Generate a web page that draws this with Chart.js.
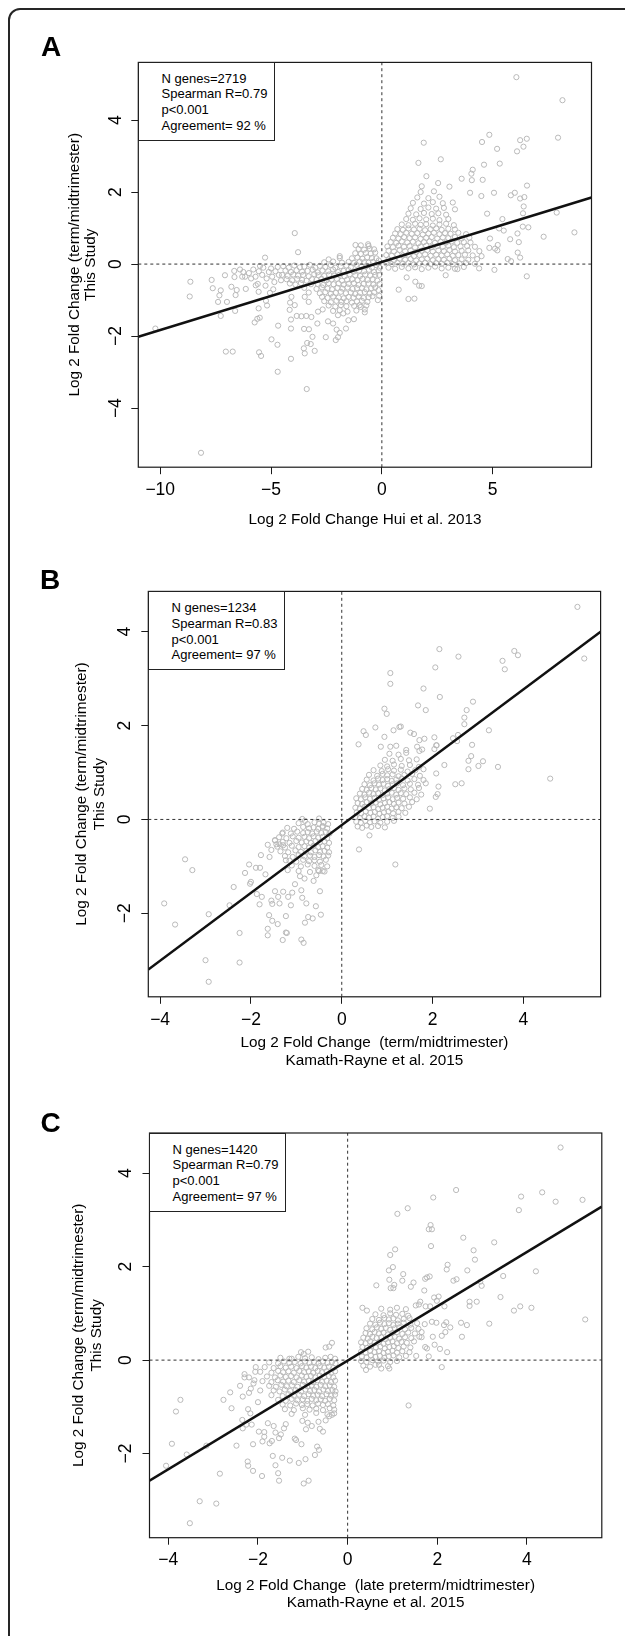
<!DOCTYPE html>
<html><head><meta charset="utf-8">
<script src="https://cdn.jsdelivr.net/npm/chart.js@4.4.1/dist/chart.umd.min.js"></script>
<style>
html,body{margin:0;padding:0;background:#fff;}
#page{position:relative;width:625px;height:1636px;overflow:hidden;font-family:"Liberation Sans",Arial,Helvetica,sans-serif;color:#000;}
#frame{position:absolute;left:8px;top:7.5px;width:700px;height:1700px;border:2px solid #262626;border-radius:12px;box-sizing:border-box;}
canvas{position:absolute;left:0;}
.lbl{position:absolute;font-weight:bold;font-size:28px;line-height:28px;}
.leg{position:absolute;border:1px solid #222;background:#fff;box-sizing:border-box;font-size:13px;line-height:15.8px;padding-left:22.5px;white-space:nowrap;}
</style></head>
<body><div id="page">
<div id="frame"></div>
<canvas id="cA" width="625" height="550" style="top:0px"></canvas>
<canvas id="cB" width="625" height="540" style="top:540px"></canvas>
<canvas id="cC" width="625" height="556" style="top:1080px"></canvas>
<div class="lbl" style="left:41px;top:33px">A</div>
<div class="lbl" style="left:40px;top:566px">B</div>
<div class="lbl" style="left:40.5px;top:1109px">C</div>
<div class="leg" style="left:138px;top:62px;width:137px;height:79px;padding-top:7.5px">N genes=2719<br>Spearman R=0.79<br>p&lt;0.001<br>Agreement= 92 %</div>
<div class="leg" style="left:148px;top:591px;width:137px;height:79px;padding-top:8px">N genes=1234<br>Spearman R=0.83<br>p&lt;0.001<br>Agreement= 97 %</div>
<div class="leg" style="left:149px;top:1133px;width:137px;height:79px;padding-top:7.5px">N genes=1420<br>Spearman R=0.79<br>p&lt;0.001<br>Agreement= 97 %</div>
</div>
<script>
// ---------- Panel A data ----------
const xTicksA = [-10, -5, 0, 5];
const yTicksA = [-4, -2, 0, 2, 4];
const fitA = [0.06, 0.189]; // intercept, slope
const outA = [[-3.93,0.86],[-3.78,0.33],[-5.27,0.18],[-8.64,-0.49],[-8.67,-0.9],[-10.22,-1.79],[-7.68,-0.44],[-7.63,-0.67],[-7.08,-0.31],[-6.66,-0.19],[-6.65,-0.36],[-7.27,-0.73],[-7.33,-0.87],[-7.39,-1.05],[-6.99,-1.05],[-6.79,-0.63],[-6.6,-0.86],[-6.55,-0.72],[-7.27,-1.44],[-6.62,-1.3],[-7.04,-2.43],[-6.73,-2.43],[-8.16,-5.24],[-6.17,-0.35],[-6.14,-0.69],[-6.25,-0.22],[-5.74,-1.62],[-5.62,-1.52],[-5.51,-1.49],[-5.56,-1.23],[-5.54,-2.45],[-5.45,-2.55],[-5.18,-1.15],[-5.23,-1.02],[-5.69,-0.59],[-5.56,-0.77],[-4.98,-2.09],[-4.71,-2.24],[-4.68,-1.71],[-4.7,-2.99],[-4.1,-1.54],[-4.1,-1.79],[-4.1,-2.63],[-3.39,-3.47],[-3.52,-2.34],[-3.48,-2.48],[-3.37,-2.19],[-3.21,-2.22],[-3.03,-2.41],[-3.13,-2.02],[-3.51,-1.8],[-3.29,-1.81],[-2.91,-1.65],[-2.53,-2.03],[-2.08,-2.11],[-1.98,-2.03],[-1.9,-1.91],[-2.04,-1.82],[-1.62,-1.79],[-1.51,-1.56],[-1.26,-1.53],[-4.16,-1.27],[-3.84,-1.44],[-3.63,-1.45],[-3.41,-1.44],[-3.18,-1.47],[-2.43,-1.59],[-2.2,-1.65],[-0.77,-1.34],[-0.77,-1.26],[-4.14,-1.07],[-3.93,-1.14],[-4.08,-0.91],[-3.48,-0.91],[-3.3,-1.05],[-2.88,-1.32],[-2.67,-1.26],[-1.98,-1.42],[-1.74,-1.37],[-1.0,-1.14],[-0.62,0.55],[-1.19,0.53],[-1.9,0.22],[-2.4,0.13],
[6.07,5.19],[8.15,4.55],[7.95,3.51],[4.85,3.59],[4.52,3.39],[6.24,3.44],[6.54,3.48],[6.39,3.26],[6.1,3.13],[5.2,3.2],[5.32,2.79],[4.61,2.76],[1.89,3.37],[1.65,2.81],[2.66,2.91],[4.1,2.62],[4.04,2.51],[4.06,2.33],[3.6,2.37],[4.55,2.34],[2.01,2.44],[1.8,2.16],[2.54,2.25],[3.05,2.15],[3.98,1.98],[5.06,1.98],[4.49,1.89],[5.82,1.91],[6.0,1.98],[6.55,2.18],[6.24,1.82],[6.43,1.86],[6.4,1.6],[4.75,1.4],[5.44,1.25],[6.37,1.41],[6.36,1.04],[6.61,1.02],[7.3,0.76],[8.69,0.88],[7.89,1.43],[5.29,0.99],[5.5,0.93],[6.12,0.85],[5.79,0.69],[6.18,0.61],[6.13,0.32],[6.24,0.18],[5.68,0.14],[5.83,0.08],[5.08,-0.16],[6.54,-0.34],[4.39,-0.12],[5.23,0.53],[5.11,0.43],[4.88,0.71],[4.85,0.45],[5.21,0.38],[0.76,-0.71],[1.2,-0.97],[1.47,-0.96],[1.51,-0.49],[1.68,-0.6],[1.8,-0.61],[1.12,-0.37],[2.88,-0.31],[3.41,-0.14]];
const denseA = [[-6.0,-0.25],[-5.8,-0.15],[-5.7,-0.35],[-5.55,-0.2],[-5.4,-0.3],[-5.35,-0.1],[-5.2,-0.4],[-5.1,-0.22],[-5.0,-0.12],[-4.95,-0.35],[-4.85,-0.5],[-4.8,-0.2],[-4.7,-0.08],[-4.65,-0.3],[-4.55,-0.45],[-5.9,-0.4],[-5.6,-0.55],[-5.25,-0.6],[-4.9,-0.7],[-5.5,-0.05],[-6.3,-0.35],[-6.4,-0.15],[-5.05,-0.8],
[-4.45,-0.06],[-4.2,-0.1],[-3.95,-0.04],[-3.7,-0.09],[-3.5,-0.07],[-3.25,-0.02],[-3.0,-0.1],[-2.8,-0.05],[-2.55,-0.08],[-2.3,-0.03],[-2.1,-0.1],[-1.85,-0.06],[-1.6,-0.04],[-1.4,-0.09],[-1.15,-0.02],[-0.9,-0.07],[-0.7,-0.05],[-0.45,-0.1],[-0.25,-0.03],
[-4.35,-0.18],[-4.1,-0.22],[-3.85,-0.17],[-3.6,-0.21],[-3.35,-0.19],[-3.12,-0.16],[-2.9,-0.23],[-2.68,-0.18],[-2.42,-0.2],[-2.2,-0.15],[-1.97,-0.22],[-1.72,-0.19],[-1.5,-0.17],[-1.27,-0.21],[-1.03,-0.18],[-0.8,-0.2],[-0.58,-0.16],[-0.35,-0.22],[-0.15,-0.18],
[-4.5,-0.3],[-4.25,-0.33],[-4.0,-0.29],[-3.78,-0.32],[-3.55,-0.3],[-3.3,-0.34],[-3.05,-0.28],[-2.85,-0.31],[-2.6,-0.33],[-2.38,-0.29],[-2.15,-0.32],[-1.92,-0.3],[-1.68,-0.34],[-1.45,-0.28],[-1.2,-0.31],[-0.98,-0.33],[-0.75,-0.29],[-0.52,-0.32],[-0.3,-0.3],
[-4.3,-0.42],[-4.05,-0.45],[-3.82,-0.41],[-3.6,-0.44],[-3.4,-0.46],[-3.15,-0.42],[-2.95,-0.44],[-2.72,-0.41],[-2.5,-0.45],[-2.27,-0.43],[-2.03,-0.41],[-1.8,-0.46],[-1.57,-0.43],[-1.33,-0.42],[-1.1,-0.45],[-0.88,-0.41],[-0.64,-0.44],[-0.42,-0.42],[-0.2,-0.46],
[-4.15,-0.54],[-3.9,-0.57],[-3.65,-0.53],[-3.2,-0.56],[-2.9,-0.55],[-2.65,-0.58],[-2.4,-0.53],[-2.18,-0.56],[-1.95,-0.54],[-1.72,-0.57],[-1.5,-0.55],[-1.26,-0.53],[-1.05,-0.58],[-0.82,-0.55],[-0.6,-0.54],[-0.38,-0.57],
[-3.5,-0.66],[-2.95,-0.69],[-2.7,-0.65],[-2.45,-0.68],[-2.25,-0.7],[-2.0,-0.66],[-1.78,-0.68],[-1.55,-0.65],[-1.32,-0.69],[-1.12,-0.67],[-0.9,-0.66],[-0.7,-0.7],[-0.48,-0.67],[-0.3,-0.65],
[-3.3,-0.79],[-2.8,-0.81],[-2.55,-0.78],[-2.3,-0.82],[-2.08,-0.8],[-1.85,-0.77],[-1.62,-0.81],[-1.4,-0.79],[-1.2,-0.83],[-0.98,-0.8],[-0.77,-0.78],[-0.55,-0.82],[-0.35,-0.79],
[-2.7,-0.91],[-2.45,-0.94],[-2.2,-0.9],[-1.95,-0.93],[-1.72,-0.95],[-1.5,-0.91],[-1.28,-0.93],[-1.05,-0.9],[-0.82,-0.94],[-0.6,-0.92],[-0.42,-0.89],
[-2.6,-1.03],[-2.3,-1.06],[-2.05,-1.02],[-1.82,-1.05],[-1.6,-1.03],[-1.35,-1.07],[-1.12,-1.04],[-0.9,-1.02],[-0.65,-1.05],
[-2.4,-1.15],[-2.1,-1.18],[-1.85,-1.14],[-1.6,-1.17],[-1.25,-1.16],[-0.95,-1.19],[-0.7,-1.15],
[-2.2,-1.3],[-1.9,-1.28],[-1.55,-1.32],[-1.15,-1.29],
[-2.6,0.05],[-2.2,0.07],[-1.8,0.04],[-1.5,0.06],[-1.25,0.03],[-1.0,0.07],[-0.8,0.05],[-0.6,0.04],[-0.4,0.06],[-0.2,0.03],
[-1.9,0.17],[-1.35,0.16],[-1.1,0.18],[-0.88,0.15],[-0.66,0.19],[-0.45,0.17],[-0.25,0.16],
[-1.2,0.3],[-0.95,0.28],[-0.72,0.31],[-0.5,0.29],[-0.3,0.32],[-1.05,0.42],[-0.8,0.4],[-0.55,0.43],[-0.35,0.41],[-0.95,0.52],[-0.6,0.5],
[-0.12,-0.3],[-0.1,-0.55],[-0.15,-0.72],[-0.12,-0.88],[-0.18,-1.0],[-0.14,0.1],[-0.1,-0.1],
[0.3,-0.1],[0.6,-0.13],[0.9,-0.08],[1.2,-0.12],[1.5,-0.09],[1.8,-0.14],[2.1,-0.1],[2.4,-0.07],[2.7,-0.12],[3.0,-0.1],[3.3,-0.13],[3.7,-0.08],
[0.2,0.02],[0.45,0.0],[0.7,0.04],[0.95,0.01],[1.2,0.03],[1.45,-0.01],[1.7,0.02],[1.95,0.04],[2.2,0.0],[2.45,0.03],[2.7,0.01],[2.95,0.04],[3.2,0.0],[3.5,0.02],[3.8,0.03],[4.2,0.01],
[0.3,0.13],[0.55,0.11],[0.8,0.15],[1.05,0.12],[1.3,0.14],[1.55,0.1],[1.8,0.13],[2.05,0.15],[2.3,0.11],[2.55,0.14],[2.8,0.12],[3.05,0.15],[3.3,0.11],[3.6,0.13],[3.9,0.12],[4.3,0.14],
[0.2,0.25],[0.45,0.23],[0.7,0.27],[0.95,0.24],[1.2,0.26],[1.45,0.22],[1.7,0.25],[1.95,0.27],[2.2,0.23],[2.45,0.26],[2.7,0.24],[2.95,0.27],[3.2,0.23],[3.45,0.25],[3.75,0.26],[4.1,0.24],[4.5,0.22],
[0.3,0.37],[0.55,0.35],[0.8,0.39],[1.05,0.36],[1.3,0.38],[1.55,0.34],[1.8,0.37],[2.05,0.39],[2.3,0.35],[2.55,0.38],[2.8,0.36],[3.05,0.39],[3.3,0.35],[3.6,0.37],[3.9,0.38],[4.4,0.36],
[0.25,0.49],[0.5,0.47],[0.75,0.51],[1.0,0.48],[1.25,0.5],[1.5,0.46],[1.75,0.49],[2.0,0.51],[2.25,0.47],[2.5,0.5],[2.75,0.48],[3.0,0.51],[3.25,0.47],[3.55,0.49],[3.85,0.5],[4.2,0.48],
[0.4,0.61],[0.65,0.59],[0.9,0.63],[1.15,0.6],[1.4,0.62],[1.65,0.58],[1.9,0.61],[2.15,0.63],[2.4,0.59],[2.65,0.62],[2.9,0.6],[3.15,0.63],[3.4,0.59],[3.7,0.61],[4.0,0.6],
[0.5,0.73],[0.75,0.71],[1.0,0.75],[1.25,0.72],[1.5,0.74],[1.75,0.7],[2.0,0.73],[2.25,0.75],[2.5,0.71],[2.75,0.74],[3.0,0.72],[3.3,0.75],[3.6,0.71],[3.95,0.73],
[0.6,0.85],[0.85,0.83],[1.1,0.87],[1.35,0.84],[1.6,0.86],[1.85,0.82],[2.1,0.85],[2.35,0.87],[2.6,0.83],[2.85,0.86],[3.1,0.84],[3.45,0.87],[3.8,0.83],
[0.7,0.97],[0.95,0.95],[1.2,0.99],[1.45,0.96],[1.7,0.98],[1.95,0.94],[2.2,0.97],[2.45,0.99],[2.7,0.95],[3.0,0.98],[3.3,0.96],
[0.9,1.1],[1.2,1.08],[1.5,1.12],[1.75,1.09],[2.0,1.11],[2.3,1.07],[2.6,1.1],[2.9,1.12],[3.25,1.08],
[1.1,1.25],[1.4,1.23],[1.7,1.27],[2.0,1.24],[2.3,1.26],[2.6,1.22],[3.0,1.25],
[1.2,1.4],[1.55,1.38],[1.9,1.42],[2.25,1.39],[2.55,1.41],[2.9,1.37],
[1.3,1.55],[1.75,1.53],[2.1,1.57],[2.45,1.54],[2.8,1.56],[3.3,1.52],
[1.4,1.7],[1.9,1.68],[2.3,1.72],[2.75,1.69],[3.2,1.71],[1.6,1.85],[2.1,1.83],[2.6,1.87],[1.75,2.0],[2.35,2.02]];

// ---------- Panel B data ----------
const xTicksB = [-4, -2, 0, 2, 4];
const yTicksB = [-2, 0, 2, 4];
const fitB = [-0.12, 0.723];
const outB = [[5.19,4.53],[5.34,3.43],[2.15,3.63],[2.57,3.47],[3.8,3.59],[3.88,3.5],[3.54,3.38],[3.59,3.2],[2.06,3.24],[1.07,3.12],[1.07,2.89],[1.8,2.79],[2.16,2.61],[1.68,2.43],[1.85,2.33],[0.94,2.36],[0.99,2.25],[2.89,2.51],[2.75,2.33],[2.7,2.17],[2.7,2.03],[3.24,1.9],[2.56,1.8],[2.45,1.73],[2.54,1.67],[2.87,1.59],[2.85,1.35],[2.79,1.25],[3.11,1.24],[3.01,1.14],[2.79,1.07],[3.44,1.12],[2.26,1.16],[2.5,0.75],[2.64,0.77],[4.59,0.87],[1.94,0.23],[2.11,0.54],[2.07,0.48],[2.13,0.7],[2.08,0.98],[2.04,1.75],[2.08,1.58],[2.04,1.5],[0.74,1.96],[0.48,1.88],[0.53,1.8],[0.37,1.6],[1.14,1.9],[1.27,1.97],[1.3,1.98],[0.94,1.76],[1.51,1.85],[1.59,1.82],[1.71,1.69],[1.82,1.72],[0.38,-0.64],[1.18,-0.96],[0.61,-0.34],[0.86,1.55],[1.07,1.55],[1.2,1.57],[1.42,1.48],[1.71,1.46],[1.77,1.49],[1.66,1.55],[2.09,1.58],
[-3.91,-1.79],[-3.67,-2.24],[-3.45,-0.85],[-3.29,-1.08],[-2.93,-2.02],[-3.0,-3.0],[-2.93,-3.46],[-2.25,-2.42],[-2.25,-3.05],[-2.47,-1.83],[-2.38,-1.44],[-2.13,-1.14],[-2.04,-0.96],[-2.0,-1.33],[-2.02,-1.37],[-1.89,-1.03],[-1.8,-1.03],[-1.78,-0.76],[-1.68,-1.17],[-1.87,-1.59],[-1.81,-1.81],[-1.76,-1.65],[-1.63,-0.54],[-1.59,-0.8],[-1.55,-0.65],[-1.47,-0.45],[-1.63,-2.33],[-1.63,-2.47],[-1.53,-2.16],[-1.6,-2.04],[-1.53,-1.8],[-1.55,-1.73],[-1.47,-1.53],[-1.41,-2.23],[-1.4,-1.65],[-1.37,-1.79],[-1.3,-2.57],[-1.23,-2.41],[-1.21,-2.42],[-1.23,-2.06],[-1.29,-1.54],[-1.18,-1.65],[-1.12,-1.83],[-1.09,-1.56],[-1.03,-1.38],[-0.89,-2.56],[-0.84,-2.63],[-0.81,-2.2],[-0.74,-2.08],[-0.64,-2.11],[-0.57,-1.85],[-0.46,-2.03],[-0.48,-1.53],[-0.87,-1.67],[-0.78,-1.79],[-0.89,-1.51],[-0.62,-1.31],[-0.56,-1.19],[-0.5,-1.1],[-0.42,-1.1],[-0.82,-1.26],[-0.92,-1.21],[-1.31,-0.3],[-1.47,-0.44],[-1.23,-0.87],[-1.19,-1.08],[-1.44,-0.53],[-1.37,-0.53],[-1.29,-0.55],[-0.87,0.01],[-0.5,0.02],[-0.42,-0.14],[-0.81,-0.03]];
const denseB = [[0.35,-0.15],[0.45,-0.18],[0.55,-0.13],[0.65,-0.16],[0.8,-0.14],[0.95,-0.17],
[0.32,-0.05],[0.42,-0.07],[0.52,-0.03],[0.62,-0.06],[0.72,-0.04],[0.85,-0.07],[1.0,-0.05],[1.15,-0.03],
[0.3,0.05],[0.4,0.03],[0.5,0.07],[0.6,0.04],[0.7,0.06],[0.8,0.02],[0.9,0.05],[1.0,0.07],[1.12,0.03],[1.25,0.06],
[0.33,0.15],[0.43,0.13],[0.53,0.17],[0.63,0.14],[0.73,0.16],[0.83,0.12],[0.93,0.15],[1.03,0.17],[1.13,0.13],[1.25,0.16],[1.4,0.14],
[0.3,0.25],[0.4,0.23],[0.5,0.27],[0.6,0.24],[0.7,0.26],[0.8,0.22],[0.9,0.25],[1.0,0.27],[1.1,0.23],[1.2,0.26],[1.32,0.24],[1.48,0.27],
[0.35,0.35],[0.45,0.33],[0.55,0.37],[0.65,0.34],[0.75,0.36],[0.85,0.32],[0.95,0.35],[1.05,0.37],[1.15,0.33],[1.25,0.36],[1.38,0.34],[1.55,0.37],
[0.32,0.45],[0.42,0.43],[0.52,0.47],[0.62,0.44],[0.72,0.46],[0.82,0.42],[0.92,0.45],[1.02,0.47],[1.12,0.43],[1.22,0.46],[1.35,0.44],[1.5,0.47],[1.65,0.43],
[0.4,0.55],[0.5,0.53],[0.6,0.57],[0.7,0.54],[0.8,0.56],[0.9,0.52],[1.0,0.55],[1.1,0.57],[1.2,0.53],[1.3,0.56],[1.42,0.54],[1.6,0.57],[1.75,0.53],
[0.45,0.65],[0.55,0.63],[0.65,0.67],[0.75,0.64],[0.85,0.66],[0.95,0.62],[1.05,0.65],[1.15,0.67],[1.25,0.63],[1.38,0.66],[1.52,0.64],[1.7,0.67],
[0.5,0.75],[0.62,0.73],[0.72,0.77],[0.82,0.74],[0.92,0.76],[1.02,0.72],[1.12,0.75],[1.22,0.77],[1.35,0.73],[1.5,0.76],[1.68,0.74],[1.85,0.77],
[0.55,0.85],[0.7,0.83],[0.8,0.87],[0.9,0.84],[1.0,0.86],[1.1,0.82],[1.2,0.85],[1.32,0.87],[1.45,0.83],[1.6,0.86],[1.8,0.84],
[0.6,0.95],[0.78,0.93],[0.9,0.97],[1.0,0.94],[1.12,0.96],[1.25,0.92],[1.38,0.95],[1.55,0.97],[1.72,0.93],
[0.7,1.05],[0.88,1.03],[1.02,1.07],[1.15,1.04],[1.3,1.06],[1.45,1.02],[1.62,1.05],[1.8,1.07],
[0.85,1.15],[1.0,1.13],[1.15,1.17],[1.32,1.14],[1.5,1.16],[1.7,1.12],[0.95,1.27],[1.12,1.25],[1.3,1.29],[1.48,1.26],[1.65,1.28],[1.05,1.4],[1.25,1.38],[1.42,1.42],
[-0.95,-0.08],[-0.75,-0.1],[-0.6,-0.06],[-0.5,-0.09],[-0.4,-0.07],[-0.3,-0.1],
[-1.2,-0.18],[-1.05,-0.2],[-0.85,-0.16],[-0.72,-0.19],[-0.62,-0.17],[-0.52,-0.2],[-0.42,-0.16],[-0.32,-0.19],
[-1.3,-0.28],[-1.12,-0.3],[-0.98,-0.26],[-0.85,-0.29],[-0.75,-0.27],[-0.65,-0.3],[-0.55,-0.26],[-0.45,-0.29],[-0.35,-0.27],[-0.27,-0.3],
[-1.38,-0.38],[-1.22,-0.4],[-1.08,-0.36],[-0.95,-0.39],[-0.82,-0.37],[-0.72,-0.4],[-0.62,-0.36],[-0.52,-0.39],[-0.42,-0.37],[-0.32,-0.4],
[-1.3,-0.48],[-1.15,-0.5],[-1.0,-0.46],[-0.88,-0.49],[-0.78,-0.47],[-0.68,-0.5],[-0.58,-0.46],[-0.48,-0.49],[-0.38,-0.47],[-0.28,-0.5],
[-1.42,-0.58],[-1.25,-0.6],[-1.1,-0.56],[-0.95,-0.59],[-0.82,-0.57],[-0.72,-0.6],[-0.62,-0.56],[-0.52,-0.59],[-0.42,-0.57],[-0.32,-0.6],
[-1.35,-0.68],[-1.18,-0.7],[-1.02,-0.66],[-0.9,-0.69],[-0.78,-0.67],[-0.68,-0.7],[-0.58,-0.66],[-0.48,-0.69],[-0.38,-0.67],[-0.28,-0.7],
[-1.25,-0.78],[-1.08,-0.8],[-0.95,-0.76],[-0.82,-0.79],[-0.7,-0.77],[-0.6,-0.8],[-0.5,-0.76],[-0.4,-0.79],[-0.3,-0.77],
[-1.15,-0.88],[-1.0,-0.9],[-0.85,-0.86],[-0.72,-0.89],[-0.6,-0.87],[-0.48,-0.9],[-0.35,-0.86],
[-1.1,-0.98],[-0.9,-1.0],[-0.75,-0.96],[-0.6,-0.99],[-0.45,-0.97],[-0.32,-1.0],[-0.95,-1.1],[-0.7,-1.12],[-0.52,-1.08],[-0.38,-1.11]];

// ---------- Panel C data ----------
const xTicksC = [-4, -2, 0, 2, 4];
const yTicksC = [-2, 0, 2, 4];
const fitC = [-0.01, 0.581];
const outC = [[-3.73,-0.85],[-3.83,-1.1],[-3.92,-1.79],[-4.05,-2.26],[-3.59,-2.02],[-3.15,-1.83],[-3.3,-3.02],[-2.93,-3.07],[-3.52,-3.49],[-2.85,-2.43],[-2.62,-0.69],[-2.77,-0.85],[-2.59,-1.03],[-2.48,-1.83],[-2.34,-0.78],[-2.35,-1.28],[-2.34,-1.46],[-2.22,-1.05],[-2.23,-2.17],[-2.22,-2.26],[-2.11,-2.37],[-2.11,-1.8],[-2.14,-1.38],[-2.26,-1.38],[-2.3,-0.37],[-2.2,-0.37],[-2.08,-0.43],[-2.16,-0.61],[-2.06,-0.25],[-1.9,-1.74],[-1.91,-2.48],[-1.86,-1.64],[-1.86,-1.54],[-1.74,-1.78],[-1.69,-1.73],[-1.67,-2.05],[-1.61,-2.25],[-1.55,-2.42],[-1.53,-2.58],[-1.46,-2.09],[-1.65,-1.41],[-1.61,-1.55],[-1.49,-1.59],[-1.53,-1.67],[-1.42,-1.46],[-1.38,-1.37],[-1.29,-2.15],[-1.18,-1.68],[-1.15,-1.71],[-1.03,-1.8],[-1.09,-2.2],[-0.94,-2.12],[-0.98,-2.64],[-0.87,-2.58],[-0.73,-2.03],[-0.68,-1.85],[-0.64,-1.92],[-0.62,-1.47],[-0.55,-1.53],[-0.89,-1.34],[-0.8,-1.41],[-1.01,-1.3],[-0.93,-1.48],[-0.49,-1.29],[-0.41,-1.2],[-0.35,-1.17],[-0.65,-1.32],[-0.35,0.37],[-0.49,0.27],[-0.41,0.29],[-1.04,0.17],[-0.98,0.13],[-0.88,0.18],[-1.25,0.03],[-2.17,-1.14],[-1.98,-1.53],[-1.78,-1.35],
[4.75,4.55],[2.42,3.64],[1.91,3.48],[3.87,3.5],[4.34,3.59],[4.64,3.39],[5.24,3.43],[3.82,3.21],[1.11,3.13],[1.34,3.25],[1.85,2.89],[1.81,2.8],[1.88,2.8],[2.58,2.62],[3.27,2.52],[1.86,2.44],[2.81,2.35],[2.84,2.15],[1.06,2.37],[0.95,2.25],[2.23,2.04],[2.21,1.94],[2.67,1.92],[3.47,1.8],[4.2,1.9],[1.01,1.99],[0.92,1.92],[0.93,1.72],[0.64,1.6],[1.24,1.84],[1.22,1.7],[1.04,1.61],[0.96,1.54],[1.02,1.54],[1.41,1.57],[1.47,1.66],[1.73,1.74],[1.77,1.77],[1.83,1.79],[1.71,1.49],[2.36,1.7],[2.43,1.73],[2.99,1.59],[2.96,1.68],[3.41,1.35],[2.72,1.25],[2.88,1.25],[2.72,1.16],[3.71,1.06],[3.85,1.15],[4.1,1.12],[3.16,0.78],[5.3,0.87],[2.53,0.8],[2.66,0.75],[2.55,0.5],[2.29,0.7],[2.18,0.6],[2.1,0.52],[2.22,0.17],[2.06,0.24],[1.94,0.33],[1.81,0.08],[1.73,0.28],[1.77,0.25],[1.53,0.09],[2.1,-0.15],[1.36,-0.97],[0.93,-0.18],[0.75,-0.18],[0.62,-0.1],[0.41,-0.21],[0.33,1.12],[0.43,1.06],[1.93,1.34],[2.03,1.36],[1.99,1.27],[2.16,1.15],[1.84,1.15],[1.74,1.15],[1.62,1.25],[1.59,1.19],[1.52,1.17],[1.98,0.8],[1.88,0.82],[2.2,0.81],[2.15,0.75],[1.9,0.5],[1.65,0.49]];
const denseC = [[-1.5,0.05],[-1.3,0.03],[-1.1,0.07],[-0.95,0.04],[-0.8,0.06],[-0.65,0.02],[-0.5,0.05],[-0.38,0.07],[-0.28,0.03],
[-1.75,-0.05],[-1.55,-0.07],[-1.42,-0.03],[-1.3,-0.06],[-1.18,-0.04],[-1.05,-0.07],[-0.95,-0.03],[-0.85,-0.06],[-0.75,-0.04],[-0.65,-0.07],[-0.55,-0.03],[-0.45,-0.06],[-0.35,-0.04],[-0.27,-0.07],
[-1.85,-0.15],[-1.65,-0.17],[-1.5,-0.13],[-1.38,-0.16],[-1.26,-0.14],[-1.14,-0.17],[-1.02,-0.13],[-0.92,-0.16],[-0.82,-0.14],[-0.72,-0.17],[-0.62,-0.13],[-0.52,-0.16],[-0.42,-0.14],[-0.32,-0.17],
[-1.95,-0.25],[-1.7,-0.27],[-1.55,-0.23],[-1.44,-0.26],[-1.32,-0.24],[-1.2,-0.27],[-1.08,-0.23],[-0.97,-0.26],[-0.87,-0.24],[-0.77,-0.27],[-0.67,-0.23],[-0.57,-0.26],[-0.47,-0.24],[-0.37,-0.27],[-0.28,-0.24],
[-1.8,-0.35],[-1.62,-0.37],[-1.5,-0.33],[-1.38,-0.36],[-1.26,-0.34],[-1.14,-0.37],[-1.02,-0.33],[-0.92,-0.36],[-0.82,-0.34],[-0.72,-0.37],[-0.62,-0.33],[-0.52,-0.36],[-0.42,-0.34],[-0.32,-0.37],
[-1.9,-0.45],[-1.7,-0.47],[-1.56,-0.43],[-1.44,-0.46],[-1.32,-0.44],[-1.2,-0.47],[-1.08,-0.43],[-0.97,-0.46],[-0.87,-0.44],[-0.77,-0.47],[-0.67,-0.43],[-0.57,-0.46],[-0.47,-0.44],[-0.37,-0.47],[-0.28,-0.44],
[-1.75,-0.55],[-1.6,-0.57],[-1.48,-0.53],[-1.36,-0.56],[-1.24,-0.54],[-1.12,-0.57],[-1.0,-0.53],[-0.9,-0.56],[-0.8,-0.54],[-0.7,-0.57],[-0.6,-0.53],[-0.5,-0.56],[-0.4,-0.54],[-0.3,-0.57],
[-1.65,-0.65],[-1.52,-0.67],[-1.4,-0.63],[-1.28,-0.66],[-1.16,-0.64],[-1.04,-0.67],[-0.94,-0.63],[-0.84,-0.66],[-0.74,-0.64],[-0.64,-0.67],[-0.54,-0.63],[-0.44,-0.66],[-0.34,-0.64],[-0.27,-0.67],
[-1.7,-0.75],[-1.45,-0.77],[-1.32,-0.73],[-1.2,-0.76],[-1.08,-0.74],[-0.97,-0.77],[-0.87,-0.73],[-0.77,-0.76],[-0.67,-0.74],[-0.57,-0.77],[-0.47,-0.73],[-0.37,-0.76],[-0.28,-0.74],
[-1.55,-0.85],[-1.38,-0.87],[-1.25,-0.83],[-1.12,-0.86],[-1.0,-0.84],[-0.9,-0.87],[-0.8,-0.83],[-0.7,-0.86],[-0.6,-0.84],[-0.5,-0.87],[-0.4,-0.83],[-0.3,-0.86],
[-1.45,-0.95],[-1.28,-0.97],[-1.15,-0.93],[-1.02,-0.96],[-0.9,-0.94],[-0.78,-0.97],[-0.66,-0.93],[-0.55,-0.96],[-0.44,-0.94],[-0.32,-0.97],
[-1.4,-1.05],[-1.2,-1.07],[-1.0,-1.03],[-0.85,-1.06],[-0.7,-1.04],[-0.55,-1.07],[-0.4,-1.03],[-0.3,-1.06],
[-1.25,-1.15],[-0.95,-1.17],[-0.7,-1.13],[-0.45,-1.16],[-0.3,-1.14],
[-2.3,-0.3],[-2.1,-0.5],[-2.2,-0.7],[-2.0,-0.9],[-2.4,-0.55],[-2.05,-0.15],[-1.95,-0.65],
[0.35,-0.12],[0.5,-0.14],[0.7,-0.1],[0.9,-0.13],
[0.3,-0.02],[0.42,-0.04],[0.55,0.0],[0.68,-0.03],[0.8,-0.01],[0.95,-0.04],[1.1,-0.02],
[0.32,0.08],[0.42,0.06],[0.52,0.1],[0.62,0.07],[0.72,0.09],[0.82,0.05],[0.92,0.08],[1.02,0.1],[1.15,0.06],[1.3,0.09],
[0.3,0.18],[0.4,0.16],[0.5,0.2],[0.6,0.17],[0.7,0.19],[0.8,0.15],[0.9,0.18],[1.0,0.2],[1.1,0.16],[1.22,0.19],[1.38,0.17],
[0.33,0.28],[0.43,0.26],[0.53,0.3],[0.63,0.27],[0.73,0.29],[0.83,0.25],[0.93,0.28],[1.03,0.3],[1.13,0.26],[1.25,0.29],[1.4,0.27],
[0.3,0.38],[0.4,0.36],[0.5,0.4],[0.6,0.37],[0.7,0.39],[0.8,0.35],[0.9,0.38],[1.0,0.4],[1.1,0.36],[1.2,0.39],[1.32,0.37],[1.48,0.4],
[0.35,0.48],[0.45,0.46],[0.55,0.5],[0.65,0.47],[0.75,0.49],[0.85,0.45],[0.95,0.48],[1.05,0.5],[1.15,0.46],[1.28,0.49],[1.42,0.47],[1.6,0.5],
[0.4,0.58],[0.5,0.56],[0.6,0.6],[0.7,0.57],[0.8,0.59],[0.9,0.55],[1.0,0.58],[1.1,0.6],[1.22,0.56],[1.35,0.59],[1.5,0.57],[1.65,0.6],
[0.42,0.68],[0.55,0.66],[0.65,0.7],[0.75,0.67],[0.85,0.69],[0.95,0.65],[1.05,0.68],[1.15,0.7],[1.28,0.66],[1.42,0.69],[1.58,0.67],
[0.5,0.78],[0.62,0.76],[0.72,0.8],[0.82,0.77],[0.92,0.79],[1.02,0.75],[1.12,0.78],[1.25,0.8],[1.4,0.76],[1.55,0.79],[1.72,0.77],
[0.55,0.88],[0.7,0.86],[0.82,0.9],[0.92,0.87],[1.02,0.89],[1.12,0.85],[1.25,0.88],[1.38,0.9],
[0.62,0.98],[0.8,0.96],[0.95,1.0],[1.08,0.97],[1.22,0.99],[1.35,0.95],[0.75,1.1],[0.95,1.08],[1.1,1.12],[1.3,1.09]];

// ---------- drawing ----------
const FAM = '"Liberation Sans", Arial, Helvetica, sans-serif';
function fmt(v) { return v < 0 ? '\u2212' + Math.abs(v) : String(v); }

const framePlugin = {
  id: 'plotFrame',
  afterDraw(chart) {
    const { ctx, chartArea: a } = chart;
    ctx.save();
    ctx.strokeStyle = '#1a1a1a';
    ctx.lineWidth = 1.2;
    ctx.strokeRect(a.left, a.top, a.right - a.left, a.bottom - a.top);
    ctx.restore();
  }
};

function makePanel(id, P) {
  const [x0, x1] = P.xRange, [y0, y1] = P.yRange;
  const pts = P.points.map(p => ({ x: p[0], y: p[1] }));
  const datasets = [
    { data: [{ x: x0, y: P.fit[0] + P.fit[1] * x0 }, { x: x1, y: P.fit[0] + P.fit[1] * x1 }],
      showLine: true, borderColor: '#111', borderWidth: 2.5, pointRadius: 0, order: 0 },
    { data: [{ x: x0, y: 0 }, { x: x1, y: 0 }], showLine: true, borderColor: '#333',
      borderWidth: 1, borderDash: [3, 3], pointRadius: 0, order: 1 },
    { data: [{ x: 0, y: y0 }, { x: 0, y: y1 }], showLine: true, borderColor: '#333',
      borderWidth: 1, borderDash: [3, 3], pointRadius: 0, order: 1 },
    { data: pts, showLine: false, pointRadius: 2.6, borderWidth: 1,
      borderColor: '#b9b9b9', backgroundColor: 'rgba(0,0,0,0)', order: 2 }
  ];
  new Chart(document.getElementById(id), {
    type: 'scatter',
    data: { datasets },
    plugins: [framePlugin],
    options: {
      responsive: false, animation: false, devicePixelRatio: 1, events: [],
      layout: { padding: { left: 0, top: P.padTop, right: P.padRight, bottom: 0 } },
      plugins: { legend: { display: false }, tooltip: { enabled: false } },
      scales: {
        x: {
          type: 'linear', min: x0, max: x1,
          afterBuildTicks: s => { s.ticks = P.xTicks.map(v => ({ value: v })); },
          afterFit: s => { s.height = P.xH; },
          border: { display: false },
          grid: { display: true, drawOnChartArea: false, drawTicks: true, tickLength: 7, color: '#1a1a1a', lineWidth: 1 },
          ticks: { font: { family: FAM, size: 17.5 }, color: '#000', padding: P.xTickPad, maxRotation: 0, autoSkip: false, callback: v => fmt(v) },
          title: { display: true, text: P.xTitle, color: '#000', font: { family: FAM, size: 15.3, lineHeight: P.xLH },
                   padding: { top: 0, bottom: P.xTitlePad } }
        },
        y: {
          type: 'linear', min: y0, max: y1,
          afterBuildTicks: s => { s.ticks = P.yTicks.map(v => ({ value: v })); },
          afterFit: s => { s.width = P.yW; },
          border: { display: false },
          grid: { display: true, drawOnChartArea: false, drawTicks: true, tickLength: 7, color: '#1a1a1a', lineWidth: 1 },
          ticks: { font: { family: FAM, size: 17.5 }, color: '#000', padding: P.yTickPad, minRotation: 90, maxRotation: 90,
                   crossAlign: 'center', autoSkip: false, callback: v => fmt(v) },
          title: { display: true, text: ['Log 2 Fold Change (term/midtrimester)', 'This Study'], color: '#000',
                   font: { family: FAM, size: 15.3, lineHeight: P.yLH }, padding: { top: P.yTitlePad, bottom: 0 } }
        }
      }
    }
  });
}

makePanel('cA', {
  points: denseA.concat(outA), fit: fitA, xTicks: xTicksA, yTicks: yTicksA,
  xRange: [-10.99, 9.46], yRange: [-5.64, 5.6],
  padTop: 62.4, padRight: 33.5, yW: 138.3, xH: 82.8,
  xTickPad: 5, yTickPad: 5.5,
  xTitle: 'Log 2 Fold Change Hui et al. 2013', xLH: 1.2, xTitlePad: 21.1,
  yLH: 16 / 15.3, yTitlePad: 66.9
});
makePanel('cB', {
  points: denseB.concat(outB), fit: fitB, xTicks: xTicksB, yTicks: yTicksB,
  xRange: [-4.26, 5.70], yRange: [-3.78, 4.86],
  padTop: 51.4, padRight: 24.4, yW: 148.3, xH: 83.2,
  xTickPad: 5.5, yTickPad: 6.5,
  xTitle: ['Log 2 Fold Change  (term/midtrimester)', 'Kamath-Rayne et al. 2015'], xLH: 17.8 / 15.3, xTitlePad: 10.1,
  yLH: 17.9 / 15.3, yTitlePad: 72.7
});
makePanel('cC', {
  points: denseC.concat(outC), fit: fitC, xTicks: xTicksC, yTicks: yTicksC,
  xRange: [-4.42, 5.67], yRange: [-3.80, 4.86],
  padTop: 53, padRight: 23.2, yW: 149.5, xH: 98.3,
  xTickPad: 5, yTickPad: 6.5,
  xTitle: ['Log 2 Fold Change  (late preterm/midtrimester)', 'Kamath-Rayne et al. 2015'], xLH: 17.5 / 15.3, xTitlePad: 24.2,
  yLH: 17.6 / 15.3, yTitlePad: 70.1
});
</script>
</body></html>
